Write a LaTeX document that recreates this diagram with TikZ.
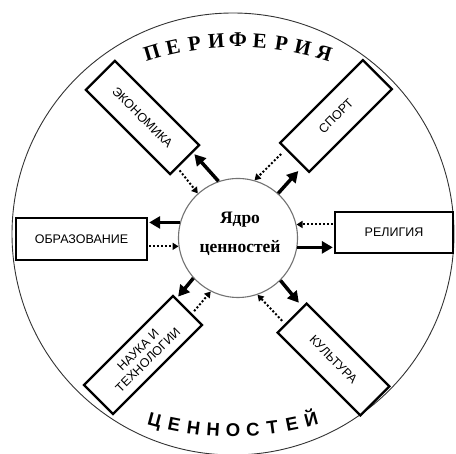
\documentclass[tikz,border=0pt]{standalone}
\usepackage{fontspec}
\setmainfont{Liberation Serif}
\setsansfont{Liberation Sans}
\usetikzlibrary{arrows.meta,calc}
\begin{document}
\begin{tikzpicture}[x=1pt,y=1pt,
  box/.style={draw, line width=2.3pt, minimum height=41pt, align=center,
    font=\sffamily\fontsize{12.5}{14}\selectfont, inner sep=2pt, fill=white},
  solidarrow/.style={line width=3.5pt, -{Triangle[length=11pt,width=12pt]}},
  dotarrow/.style={line width=2pt, dash pattern=on 2pt off 2pt, -{Triangle[length=6pt,width=7pt]}},
  toplet/.style={font=\bfseries\fontsize{21}{21}\selectfont, inner sep=0pt, text height=14pt, text depth=0pt, anchor=center},
  botlet/.style={font=\sffamily\bfseries\fontsize{18.5}{18.5}\selectfont, inner sep=0pt, text height=13.5pt, text depth=0pt, anchor=center},
  coretext/.style={font=\bfseries\fontsize{17.5}{17.5}\selectfont, inner sep=0pt, anchor=base}
]
\fill[white] (0,0) rectangle (456,454);
\useasboundingbox (0,0) rectangle (456,454);

% outer circle
\draw[line width=0.9pt, black!80] (233,220) circle (221);

% core
\node[circle, draw=black!55, line width=1.1pt, minimum size=119pt, inner sep=0pt] (core) at (238,216) {};
\node[coretext] (t1) at (240,230) {Ядро};
\node[coretext] (t2) at (240,201) {ценностей};

% boxes
\node[box, minimum width=131pt, minimum height=42pt] (obr) at (81.5,215) {ОБРАЗОВАНИЕ};
\node[box, minimum width=118pt] (rel) at (394,221.5) {РЕЛИГИЯ};
\node[box, minimum width=119pt, rotate=-45] (eco) at (142.5,336.5) {ЭКОНОМИКА};
\node[box, minimum width=117pt, rotate=45] (sport) at (336,338) {СПОРТ};
\node[box, minimum width=126pt, rotate=45] (nauka) at (143,99) {НАУКА И\\ТЕХНОЛОГИИ};
\node[box, minimum width=117pt, rotate=-45] (kult) at (333.5,94.5) {КУЛЬТУРА};

% arrows
\draw[solidarrow, shorten >=2pt] (core.109) -- ($(eco.east)!0.5!(eco.north east)$);
\draw[dotarrow, shorten <=3pt] ($(eco.east)!0.5!(eco.south east)$) -- (core.132);

\draw[dotarrow, shorten <=6pt] ($(sport.west)!0.55!(sport.north west)$) -- (core.74);
\draw[solidarrow, shorten >=6pt] (core.48) -- ($(sport.west)!0.55!(sport.south west)$);

\draw[solidarrow, shorten >=1pt] (core.165) -- (core.165 -| obr.east);
\draw[dotarrow, shorten <=1pt] (core.188 -| obr.east) -- (core.188);

\draw[dotarrow, shorten <=1pt] (core.13 -| rel.west) -- (core.13);
\draw[solidarrow, shorten >=1pt] (core.-9) -- (core.-9 -| rel.west);

\draw[solidarrow, shorten >=2pt] (core.222) -- ($(nauka.east)!0.75!(nauka.north east)$);
\draw[dotarrow, shorten <=3pt] ($(nauka.east)!0.25!(nauka.south east)$) -- (core.243);

\draw[solidarrow, shorten >=5pt] (core.315) -- ($(kult.west)!0.7!(kult.north west)$);
\draw[dotarrow, shorten <=4pt] ($(kult.west)!0.42!(kult.south west)$) -- (core.289);

% arc texts
\foreach \l [count=\i] in {П,Е,Р,И,Ф,Е,Р,И,Я} {
  \pgfmathsetmacro\a{90+(5-\i)*4.17}
  \pgfmathsetmacro\r{\a-90}
  \node[toplet, rotate=\r] (p\i) at ($(238,114)+(\a:300)$) {\l};
}
\foreach \l [count=\i] in {Ц,Е,Н,Н,О,С,Т,Е,Й} {
  \pgfmathsetmacro\a{270+(\i-5)*3.77}
  \pgfmathsetmacro\r{\a-270}
  \node[botlet, rotate=\r] (c\i) at ($(233,324)+(\a:300)$) {\l};
}
\end{tikzpicture}
\end{document}
